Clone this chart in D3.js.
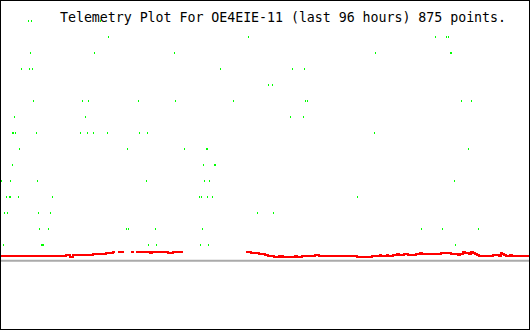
<!DOCTYPE html>
<html>
<head>
<meta charset="utf-8">
<script src="https://cdn.jsdelivr.net/npm/d3@7"></script>
<style>
  html, body { margin: 0; padding: 0; background: #fff; }
  #chart { width: 530px; height: 330px; }
</style>
</head>
<body>
<div id="chart"></div>
<script>
// time in hours since start of the 96 hour window
var titleText = "Telemetry Plot For OE4EIE-11 (last 96 hours) 875 points.";

// green channel: time (h) and level
var greenTime = [
    5.07, 5.62, 18.11, 40.03,
    19.56, 44.92, 78.79, 80.78, 81.15,
    5.43, 17.03, 31.52, 67.92, 81.51, 81.69,
    3.80, 5.25, 5.80, 39.85, 52.89, 55.06,
    48.54, 49.27,
    5.98, 14.85, 15.94, 25.00, 31.70, 42.20, 55.25, 55.61, 83.50, 85.31,
    2.54, 15.40, 52.53, 54.88,
    2.17, 2.35, 2.72, 6.52, 14.49, 15.76, 16.85, 19.38, 25.18, 26.63, 67.74,
    3.44, 23.00, 33.33, 37.31, 37.49, 84.77,
    2.17, 36.77, 38.76, 38.94,
    0.18, 1.81, 6.70, 26.45, 36.95, 37.86, 82.23,
    1.09, 1.63, 1.81, 3.26, 9.42, 36.05, 36.41, 37.49, 38.40, 64.66,
    0.72, 1.27, 6.88, 9.06, 46.55, 49.45,
    7.06, 8.69, 22.82, 23.18, 28.08, 36.59, 76.26, 80.06, 86.58,
    0.54, 7.43, 7.61, 7.79, 26.81, 28.26, 36.23, 37.68, 82.42
];
var greenValue = [
    15, 15, 15, 15,
    14, 14, 14, 14, 14,
    13, 13, 13, 13, 13, 13,
    12, 12, 12, 12, 12, 12,
    11, 11,
    10, 10, 10, 10, 10, 10, 10, 10, 10, 10,
    9, 9, 9, 9,
    8, 8, 8, 8, 8, 8, 8, 8, 8, 8, 8,
    7, 7, 7, 7, 7, 7,
    6, 6, 6, 6,
    5, 5, 5, 5, 5, 5, 5,
    4, 4, 4, 4, 4, 4, 4, 4, 4, 4,
    3, 3, 3, 3, 3, 3,
    2, 2, 2, 2, 2, 2, 2, 2, 2,
    1, 1, 1, 1, 1, 1, 1, 1, 1
];

// red channel, null = no data
var redTime = [
    0, 11.95, 12.68, 13.22, 16.85, 19.20, 20.47, 20.83, 21.0,
    21.37, 22.46, 23.0,
    23.73, 24.27, 24.4,
    24.63, 27.17, 27.53, 30.43, 31.34, 33.15, 40.0,
    44.56, 45.46, 46.91, 48.00, 48.54, 49.63, 50.54, 50.90, 51.08, 51.26,
    53.43, 53.80, 54.70, 57.06, 57.78, 64.66, 67.38, 68.83, 69.01, 70.10,
    70.28, 71.18, 71.91, 72.27, 73.18, 73.90, 75.35, 76.08, 76.44, 79.88,
    81.69, 82.96, 83.32, 83.86, 84.23, 84.95, 85.31, 85.68, 86.04, 86.40,
    86.76, 89.30, 90.38, 90.75, 90.93, 91.29, 91.65, 92.38, 92.74, 96
];
var redValue = [
    0.31, 0.38, 0.25, 0.38, 0.44, 0.50, 0.56, 0.56, null,
    0.56, 0.56, null,
    0.56, 0.56, null,
    0.56, 0.50, 0.56, 0.50, 0.56, 0.56, null,
    0.56, 0.50, 0.44, 0.38, 0.31, 0.25, 0.31, 0.25, 0.31, 0.25,
    0.31, 0.25, 0.31, 0.38, 0.31, 0.25, 0.31, 0.38, 0.31, 0.38,
    0.31, 0.38, 0.44, 0.38, 0.44, 0.38, 0.44, 0.50, 0.44, 0.50,
    0.44, 0.38, 0.44, 0.56, 0.50, 0.44, 0.56, 0.50, 0.44, 0.38,
    0.31, 0.38, 0.31, 0.50, 0.44, 0.38, 0.31, 0.38, 0.31, 0.31
];

function telemetryPlot({ id } = {}) {
    var div = document.getElementById(id);
    var divWidth = parseInt(window.getComputedStyle(div).getPropertyValue('width'));
    var divHeight = parseInt(window.getComputedStyle(div).getPropertyValue('height'));

    var x_scale = d3.scaleLinear()
        .domain([0, 96])
        .range([0, divWidth]);
    var y_scale = d3.scaleLinear()
        .domain([0, 15])
        .range([260.7, 20.7]);

    var svg = d3.select("#" + id)
        .append("svg")
        .attr("width", divWidth)
        .attr("height", divHeight);

    svg.append("rect")
        .attr("width", divWidth)
        .attr("height", divHeight)
        .attr("fill", "#fff");

    // zero line
    svg.append("line")
        .attr("x1", 1)
        .attr("x2", divWidth - 1)
        .attr("y1", y_scale(0))
        .attr("y2", y_scale(0))
        .attr("stroke", "#aaaaaa")
        .attr("stroke-width", 2);

    var greenData = greenTime.map((t, i) => [t, greenValue[i]]);
    svg.append("g")
        .selectAll("rect")
        .data(greenData)
        .enter()
        .append("rect")
        .attr("x", d => Math.round(x_scale(d[0])))
        .attr("y", d => Math.round(y_scale(d[1])) - 1)
        .attr("width", 1)
        .attr("height", 2)
        .attr("fill", "#00ff00")
        .attr("shape-rendering", "crispEdges");

    var redData = redTime.map((t, i) => [t, redValue[i]]);
    var line = d3.line()
        .defined(d => d[1] !== null)
        .x(d => x_scale(d[0]))
        .y(d => y_scale(d[1]))
        .curve(d3.curveStepAfter);

    svg.append("path")
        .datum(redData)
        .attr("d", line)
        .attr("fill", "none")
        .attr("stroke", "#ff0000")
        .attr("stroke-width", 2)
        .attr("shape-rendering", "crispEdges");

    svg.append("text")
        .attr("x", 60)
        .attr("y", 22)
        .attr("font-family", "DejaVu Sans Mono, monospace")
        .attr("font-size", "13.3px")
        .attr("textLength", 446)
        .attr("lengthAdjust", "spacing")
        .attr("fill", "#000")
        .text(titleText);

    // frame
    svg.append("rect")
        .attr("x", 0.5)
        .attr("y", 0.5)
        .attr("width", divWidth - 1)
        .attr("height", divHeight - 1)
        .attr("fill", "none")
        .attr("stroke", "#000")
        .attr("stroke-width", 1);

    return svg;
}

telemetryPlot({ id: "chart" });
</script>
</body>
</html>
